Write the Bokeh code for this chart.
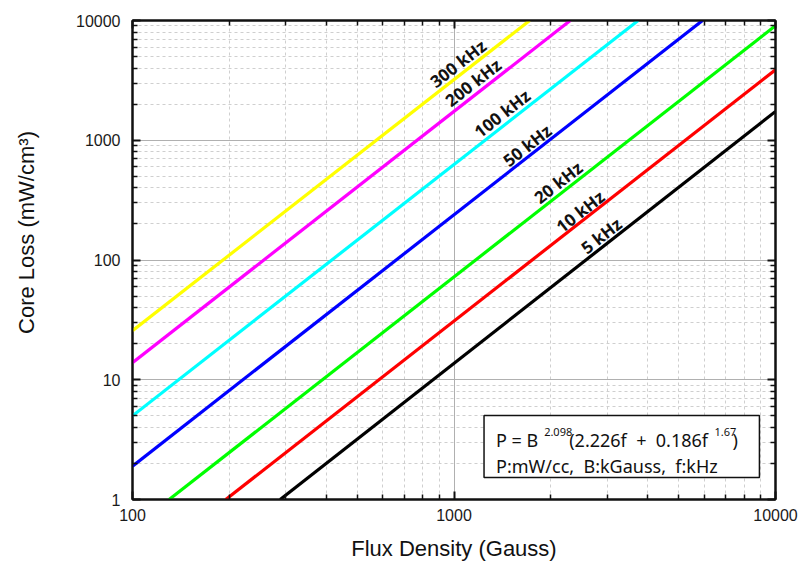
import math
from bokeh.plotting import figure
from bokeh.models import Range1d, FixedTicker, LogAxis, PrintfTickFormatter, CustomJSTickFormatter
from bokeh.core.properties import value
from bokeh.embed import file_html
from bokeh.resources import INLINE

# ---- data ----
freq_labels = ["5 kHz", "10 kHz", "20 kHz", "50 kHz", "100 kHz", "200 kHz", "300 kHz"]
line_colors = ["#000000", "#FF0000", "#00FF00", "#0000FF", "#00FFFF", "#FF00FF", "#FFFF00"]
# visible end points of each line (Flux density in Gauss, core loss in mW/cm3)
x_start = [288, 195, 130, 100, 100, 100, 100]
y_start = [1, 1, 1, 1.9, 5.0, 13.9, 25.7]
x_end = [10000, 10000, 10000, 5930, 3740, 2300, 1720]
y_end = [1740, 3880, 9050, 10000, 10000, 10000, 10000]
# label anchor points (data coordinates)
label_x = [2871, 2469, 2109, 1688, 1411, 1146, 1029]
label_y = [160, 254, 444, 904, 1673, 3034, 4375]

x_major = [100, 1000, 10000]
y_major = [1, 10, 100, 1000, 10000]
x_minor = [m * d for d in (100, 1000) for m in range(2, 10)]
y_minor = [m * d for d in (1, 10, 100, 1000) for m in range(2, 10)]

W, H = 802, 565
ML, MR, MT, MB = 132, 27, 20, 66
frame_w = W - ML - MR
frame_h = H - MT - MB
px_dec_x = frame_w / 2.0
px_dec_y = frame_h / 4.0

p = figure(width=W, height=H, x_axis_type="log", y_axis_type="log",
           x_range=Range1d(100, 10000), y_range=Range1d(1, 10000),
           output_backend="svg", toolbar_location=None,
           min_border_left=ML, min_border_right=MR, min_border_top=MT, min_border_bottom=MB,
           background_fill_color="white", border_fill_color="white")
p.outline_line_color = "#111111"
p.outline_line_width = 2

tick_font = "Liberation Sans"
lab_font = "Noto Sans"
NB = "\u00a0"

def style_axis(ax, major, minor, show_labels):
    ax.ticker = FixedTicker(ticks=major, minor_ticks=minor)
    ax.major_tick_in = 8
    ax.major_tick_out = 0
    ax.minor_tick_in = 5
    ax.minor_tick_out = 0
    ax.major_tick_line_color = "#111111"
    ax.major_tick_line_width = 2
    ax.minor_tick_line_color = "#111111"
    ax.minor_tick_line_width = 1.5
    ax.axis_line_color = "#111111"
    ax.axis_line_width = 2
    if show_labels:
        ax.formatter = PrintfTickFormatter(format="%d")
        ax.major_label_text_font = tick_font
        ax.major_label_text_font_size = "16px"
        ax.major_label_text_font_style = "normal"
        ax.major_label_text_color = "#1a1a1a"
    else:
        ax.formatter = CustomJSTickFormatter(code="return ''")
        ax.major_label_text_font_size = "0px"
        ax.major_label_standoff = 0

style_axis(p.xaxis[0], x_major, x_minor, True)
style_axis(p.yaxis[0], y_major, y_minor, True)
p.xaxis[0].major_label_standoff = 9
p.yaxis[0].major_label_standoff = 12
p.xaxis[0].axis_label = "Flux Density (Gauss)"
# leading non-breaking spaces shift the vertical title upward, as in the original
p.yaxis[0].axis_label = NB * 9 + "Core Loss (mW/cm³)"
for ax in (p.xaxis[0], p.yaxis[0]):
    ax.axis_label_text_font = tick_font
    ax.axis_label_text_font_size = "22px"
    ax.axis_label_text_font_style = "normal"
    ax.axis_label_text_color = "#111111"
p.xaxis[0].axis_label_standoff = 12
p.yaxis[0].axis_label_standoff = 34

top_ax = LogAxis()
right_ax = LogAxis()
style_axis(top_ax, x_major, x_minor, False)
style_axis(right_ax, y_major, y_minor, False)
p.add_layout(top_ax, "above")
p.add_layout(right_ax, "right")

for g in (p.xgrid[0], p.ygrid[0]):
    g.grid_line_color = "#b0b0b0"
    g.grid_line_width = 1
    g.minor_grid_line_color = "#cfcfcf"
    g.minor_grid_line_dash = "3 3"
    g.minor_grid_line_width = 1
p.xgrid[0].ticker = FixedTicker(ticks=x_major, minor_ticks=x_minor)
p.ygrid[0].ticker = FixedTicker(ticks=y_major, minor_ticks=y_minor)

for i in range(len(freq_labels)):
    p.line([x_start[i], x_end[i]], [y_start[i], y_end[i]],
           line_color=line_colors[i], line_width=3.2)
    dx = (math.log10(x_end[i]) - math.log10(x_start[i])) * px_dec_x
    dy = (math.log10(y_end[i]) - math.log10(y_start[i])) * px_dec_y
    ang = math.atan2(dy, dx)
    p.text([label_x[i]], [label_y[i]], text=[freq_labels[i]], angle=ang,
           text_font=value(lab_font), text_font_size="17px", text_font_style="bold",
           text_color="#111111", text_align="center", text_baseline="middle")

# formula box
box_left, box_right, box_bottom, box_top = 1240, 8913, 1.527, 5.03
p.quad(left=[box_left], right=[box_right], bottom=[box_bottom], top=[box_top],
       fill_color="white", line_color="#111111", line_width=1.5)

row1_y, sup_y, row2_y = 3.11, 3.65, 1.887
pieces = [("P" + NB + "=" + NB + "B", 1351, row1_y, "18px"),
          ("2.098", 1907, sup_y, "11px"),
          ("(2.226f" + NB + " +" + NB + " 0.186f", 2282, row1_y, "18px"),
          ("1.67", 6457, sup_y, "11px"),
          (")", 7345, row1_y, "18px"),
          ("P:mW/cc," + NB + " B:kGauss," + NB + " f:kHz", 1351, row2_y, "18px")]
for t, x, y, fs in pieces:
    p.text([x], [y], text=[t], text_font=value(lab_font), text_font_size=fs,
           text_color="#111111", text_align="left", text_baseline="alphabetic")

open("out.html", "w").write(file_html(p, INLINE))
